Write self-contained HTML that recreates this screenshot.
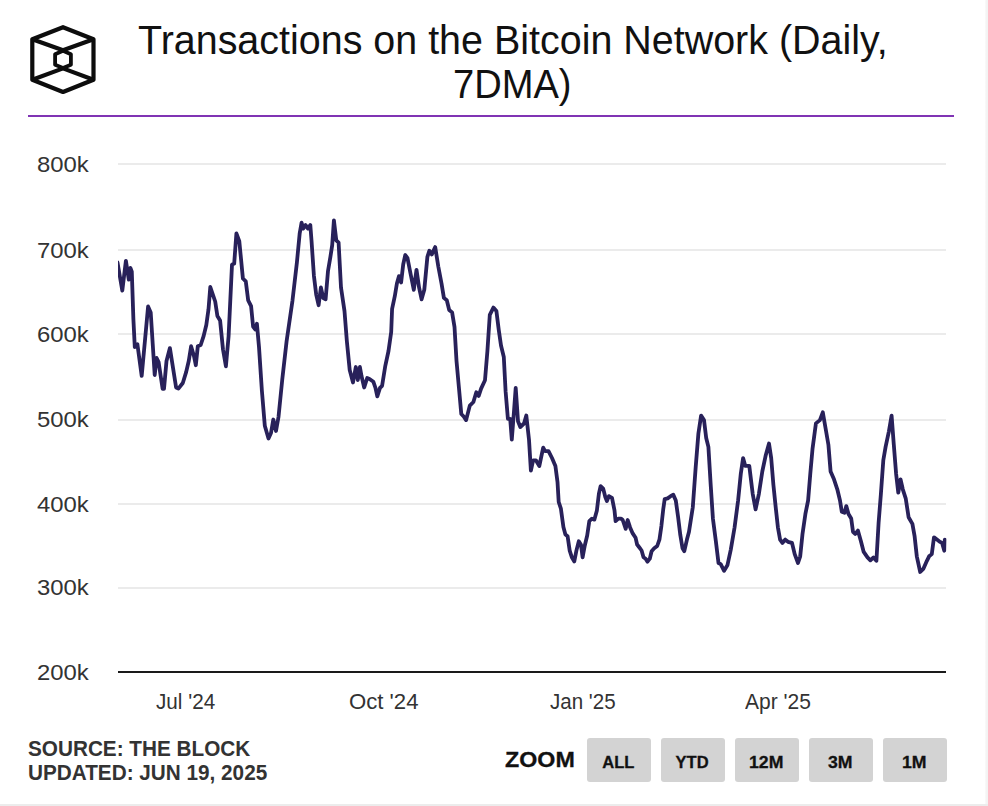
<!DOCTYPE html>
<html><head><meta charset="utf-8">
<style>
html,body{margin:0;padding:0;}
body{width:988px;height:806px;background:#fff;position:relative;overflow:hidden;font-family:"Liberation Sans",sans-serif;}
.abs{position:absolute;white-space:nowrap;line-height:1;}
.t{font-size:40.5px;color:#111;transform:scaleX(0.974);transform-origin:0 0;}
#rule{left:28px;top:115px;width:926px;height:2px;background:#8034b4;}
.grid{position:absolute;left:118px;width:828px;height:2px;background:#ebebeb;}
.ylab{position:absolute;left:37px;font-size:21.6px;line-height:1;color:#333;transform:scaleX(1.105);transform-origin:0 0;white-space:nowrap;}
.xlab{position:absolute;top:691.7px;font-size:21.5px;line-height:1;color:#333;transform-origin:0 0;white-space:nowrap;}
.src{font-size:21.5px;font-weight:bold;color:#333;transform:scaleX(0.964);transform-origin:0 0;}
#zoom{left:505.3px;top:748.4px;font-size:22.8px;font-weight:bold;color:#111;-webkit-text-stroke:0.3px #111;transform:scaleX(1.02);transform-origin:0 0;}
.btn{position:absolute;top:738px;width:64px;height:44px;background:#d3d3d3;border-radius:3px;}
.bt{position:absolute;top:754px;font-size:16.5px;line-height:1;font-weight:bold;color:#111;white-space:nowrap;-webkit-text-stroke:0.3px #111;transform-origin:0 0;}
#rstrip{left:985px;top:0;width:3px;height:806px;background:linear-gradient(to right,#fafafa,#f3f3f3 60%);}
#bstrip{left:0;top:803.5px;width:988px;height:2.5px;background:#ececec;}
</style></head><body>
<svg class="abs" style="left:0;top:0" width="120" height="110" viewBox="0 0 120 110">
<g fill="none" stroke="#0d0d0d" stroke-width="4.2" stroke-linejoin="round">
<path d="M63 27.2 L93.5 39.2 L93.5 79.7 L63 92 L32.3 79.7 L32.3 39.2 Z"/>
<path d="M32.3 39.2 L63 50.2 L93.5 39.2 M32.3 79.7 L63 68.4 L93.5 79.7"/>
<path stroke-width="3.8" d="M63 50.8 L70.9 54.3 L70.9 64.7 L63 67.9 L55.1 64.7 L55.1 54.3 Z"/>
</g>
</svg>
<div class="abs t" style="left:138.3px;top:19.7px">Transactions on the Bitcoin Network (Daily,</div>
<div class="abs t" style="left:452.5px;top:64px;transform:scaleX(0.94)">7DMA)</div>
<div id="rule" class="abs"></div>
<div class="grid" style="top:163px"></div>
<div class="grid" style="top:249px"></div>
<div class="grid" style="top:333px"></div>
<div class="grid" style="top:419px"></div>
<div class="grid" style="top:503px"></div>
<div class="grid" style="top:587px"></div>
<div class="grid" style="top:671px;left:118px;width:828px;background:#1a1a1a"></div>
<div class="ylab" style="top:153.5px">800k</div>
<div class="ylab" style="top:239.5px">700k</div>
<div class="ylab" style="top:323.5px">600k</div>
<div class="ylab" style="top:409.4px">500k</div>
<div class="ylab" style="top:493.5px">400k</div>
<div class="ylab" style="top:577.4px">300k</div>
<div class="ylab" style="top:661.5px">200k</div>
<div class="xlab" style="left:155.5px;transform:scaleX(0.962)">Jul '24</div>
<div class="xlab" style="left:349px;transform:scaleX(1.03)">Oct '24</div>
<div class="xlab" style="left:550px;transform:scaleX(0.956)">Jan '25</div>
<div class="xlab" style="left:744.6px;transform:scaleX(0.978)">Apr '25</div>
<svg class="abs" style="left:0;top:0" width="988" height="806" viewBox="0 0 988 806">
<defs><clipPath id="cp"><rect x="118" y="100" width="828.5" height="600"/></clipPath></defs>
<polyline clip-path="url(#cp)" fill="none" stroke="#28215a" stroke-width="3.8" stroke-linejoin="round" stroke-linecap="round" points="117.5,262.5 122.3,290.6 125.9,260.8 128.8,279.7 130.4,267.8 131.8,271.7 133.4,319.4 134.8,347.1 137.4,344.2 141.7,375.9 148.1,306.5 150.7,312.4 154.7,375.0 156.6,358.0 158.6,362.0 162.6,388.8 164.0,388.8 166.5,361.0 169.9,348.1 176.1,387.5 178.4,388.6 182.8,383.0 186.2,371.9 188.8,360.7 191.1,346.2 194.0,356.2 195.8,365.2 197.8,346.2 200.7,345.0 203.6,336.1 206.3,325.0 208.5,309.3 210.3,287.0 212.5,293.7 215.2,301.5 217.4,316.0 220.1,320.5 223.0,349.5 225.9,366.3 228.6,336.1 232.0,264.7 234.2,263.5 236.4,233.4 239.3,241.2 242.9,278.5 245.8,281.4 248.2,300.4 251.1,306.2 253.1,326.6 255.2,329.5 256.9,323.7 259.0,347.0 261.9,390.8 264.8,425.7 268.5,438.5 271.0,433.0 273.3,419.5 276.0,431.0 278.5,417.0 282.3,379.1 286.6,341.2 292.5,300.4 296.9,262.5 299.7,233.3 301.6,222.7 303.3,228.6 305.6,225.0 308.0,228.6 310.3,225.0 311.5,240.4 313.9,275.7 316.2,294.6 318.6,305.2 320.9,287.5 323.3,298.1 325.6,299.3 328.0,271.0 330.4,256.9 332.2,245.1 333.9,220.3 336.3,240.4 338.6,242.7 341.0,287.5 344.5,311.1 346.9,341.7 349.7,370.0 353.0,382.5 355.8,367.0 357.8,380.0 359.9,367.0 361.5,376.0 364.2,387.5 367.2,378.0 369.5,379.0 373.4,381.8 375.5,388.0 377.3,396.4 380.0,387.9 382.1,385.8 385.3,365.8 388.5,351.0 391.2,332.0 392.1,308.8 394.8,296.2 396.9,283.5 399.0,276.1 401.1,282.5 403.2,264.5 405.3,255.0 407.5,258.2 410.6,274.0 413.8,289.8 416.5,269.8 419.1,287.7 421.6,299.3 424.3,289.8 427.4,256.8 429.4,250.7 431.8,254.4 435.2,247.1 438.3,266.5 441.5,283.4 443.9,297.9 446.8,300.3 449.2,310.0 452.1,312.4 454.5,326.9 456.5,360.8 458.9,387.4 461.3,414.0 463.7,416.5 466.1,420.1 469.8,405.6 473.4,402.0 476.3,392.3 478.7,395.9 481.1,388.6 485.0,380.2 487.4,351.1 489.8,314.8 493.4,307.6 496.4,311.1 498.7,329.4 501.0,345.5 503.8,357.0 505.6,391.4 507.9,418.9 510.2,418.9 511.8,439.6 514.1,409.8 515.7,388.0 518.0,421.2 520.3,427.0 524.0,423.5 526.3,415.5 529.0,439.6 530.9,470.6 533.1,460.3 535.9,460.3 539.3,466.0 543.2,447.6 545.1,451.1 548.5,451.1 552.0,458.0 555.4,466.0 557.5,481.9 558.7,502.0 560.9,508.7 563.4,527.1 565.4,534.6 567.6,536.3 569.7,550.6 571.8,557.3 574.3,561.4 576.4,550.6 578.8,541.3 581.0,544.7 582.6,557.3 584.8,545.5 587.2,535.5 589.3,521.2 591.9,518.7 594.4,519.6 596.9,510.4 598.9,493.6 600.6,486.1 603.2,488.6 605.3,497.0 606.9,501.1 608.9,496.1 612.0,497.8 614.5,510.4 615.6,521.2 618.3,518.7 621.2,518.7 622.7,520.0 625.7,528.9 627.7,520.0 630.1,527.4 632.7,533.4 635.6,537.8 637.1,544.5 639.4,547.5 641.6,550.5 643.5,557.2 645.6,558.7 647.5,561.7 649.8,558.7 651.6,551.2 654.2,548.3 657.2,546.0 659.5,539.3 661.4,525.9 663.2,509.6 664.7,499.1 667.6,498.4 670.6,496.2 673.3,494.7 675.8,500.6 678.1,517.0 680.3,534.9 682.5,548.3 684.3,551.2 687.0,539.3 689.0,531.8 692.8,507.2 695.7,467.0 698.4,433.5 701.1,415.6 704.0,420.1 706.2,438.0 708.4,446.9 710.7,484.9 712.9,518.4 715.8,540.7 718.5,563.0 720.7,564.1 724.1,570.8 727.4,565.3 730.8,549.6 734.6,527.3 738.1,500.5 740.8,473.7 743.1,458.1 745.3,465.9 749.3,465.9 752.7,493.8 755.6,509.4 758.9,493.8 762.3,471.5 765.6,455.8 769.0,443.5 771.2,458.1 773.4,484.9 775.7,507.2 777.9,527.3 780.1,539.6 782.4,542.9 785.3,539.6 788.0,541.8 792.0,542.9 794.7,554.1 798.0,563.0 800.2,556.3 802.5,534.0 805.4,513.9 808.1,500.5 810.3,473.7 812.5,449.1 815.9,423.4 819.9,420.1 822.8,412.3 825.7,429.0 828.4,444.7 830.6,471.5 834.0,479.3 837.3,489.3 840.0,500.5 841.8,511.7 844.5,512.8 846.3,506.1 848.5,513.9 851.2,518.4 853.0,531.8 855.2,534.0 857.9,530.6 860.8,540.7 863.7,551.9 867.5,557.4 870.4,560.3 873.5,557.4 876.4,560.8 878.6,522.8 880.9,493.8 883.3,460.3 885.6,446.9 888.9,431.3 891.6,415.6 893.8,444.7 896.1,473.7 898.3,492.7 900.5,479.3 902.8,489.3 905.7,498.3 908.6,517.2 912.4,523.9 914.6,536.2 916.8,556.3 920.2,572.0 923.5,568.6 926.9,560.8 929.1,556.3 931.8,554.1 934.0,537.3 936.9,539.6 939.8,541.8 942.1,542.9 944.3,550.7 944.8,539.6"/>
</svg>
<div class="abs src" style="left:27.6px;top:739px">SOURCE: THE BLOCK</div>
<div class="abs src" style="left:27.6px;top:762.6px">UPDATED: JUN 19, 2025</div>
<div id="zoom" class="abs">ZOOM</div>
<div class="btn" style="left:587px"></div>
<div class="btn" style="left:661px"></div>
<div class="btn" style="left:735px"></div>
<div class="btn" style="left:809px"></div>
<div class="btn" style="left:883px"></div>
<div class="bt" style="left:602.3px">ALL</div>
<div class="bt" style="left:675.6px">YTD</div>
<div class="bt" style="left:749.3px;transform:scaleX(1.07)">12M</div>
<div class="bt" style="left:827.7px;transform:scaleX(1.07)">3M</div>
<div class="bt" style="left:902px;transform:scaleX(1.07)">1M</div>
<div id="rstrip" class="abs"></div>
<div id="bstrip" class="abs"></div>
</body></html>
